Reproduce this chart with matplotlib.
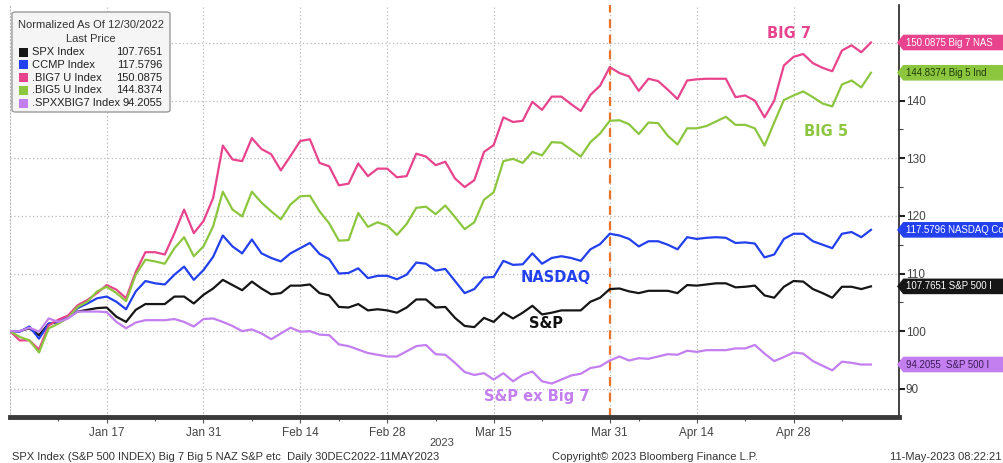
import pandas as pd
import matplotlib.pyplot as plt
from matplotlib.path import Path
from matplotlib.patches import FancyBboxPatch, Rectangle

# -----------------------------------
# Data (normalized to 100 on 30 Dec 2022)
# -----------------------------------

holidays = ["2023-01-02", "2023-01-16", "2023-02-20", "2023-04-07"]

dates = pd.bdate_range(
    "2022-12-30", "2023-05-10",
    freq="C", holidays=holidays
)

spx = [
    100, 100.0, 100.5, 99.3, 101.3, 101.6, 102.5, 103.4, 103.7, 104.0,
    104.1, 102.5, 101.6, 103.7, 104.7, 104.7, 104.7, 106.0, 106.0, 104.8,
    106.3, 107.4, 108.9, 108.0, 107.1, 108.6, 107.4, 106.4, 106.6, 107.9,
    107.9, 108.1, 106.6, 106.2, 104.2, 104.1, 104.7, 103.6, 103.8, 103.6,
    103.2, 104.1, 105.5, 105.5, 104.1, 104.2, 102.3, 100.9, 100.7, 102.3,
    101.6, 103.2, 102.2, 103.2, 104.4, 102.9, 103.2, 103.6, 103.6, 103.6,
    105.1, 105.8, 107.3, 107.4, 106.9, 106.6, 107.0, 107.0, 107.0, 106.6,
    108.0, 107.9, 108.1, 108.3, 108.3, 107.6, 107.7, 107.9, 106.2, 105.8,
    107.7, 108.7, 108.6, 107.3, 106.6, 105.8, 107.7, 107.7, 107.3, 107.77
]

ccmp = [
    100, 99.9, 100.8, 98.7, 101.3, 101.6, 102.5, 104.0, 104.8, 105.7,
    106.0, 105.1, 103.8, 106.9, 108.7, 108.3, 108.1, 109.8, 111.2, 108.9,
    110.6, 112.9, 116.6, 114.7, 113.5, 115.9, 113.5, 112.7, 112.1, 113.5,
    114.4, 115.3, 113.4, 112.5, 110.0, 110.1, 110.9, 109.2, 109.6, 109.6,
    109.0, 109.8, 111.9, 111.7, 110.5, 110.8, 108.7, 106.6, 107.3, 109.3,
    109.4, 112.2, 111.5, 111.6, 113.5, 111.7, 112.7, 113.0, 112.7, 112.2,
    114.2, 115.1, 116.9, 116.6, 116.0, 114.7, 115.6, 115.6, 115.0, 114.2,
    116.3, 116.0, 116.2, 116.3, 116.2, 115.3, 115.4, 115.2, 112.8, 113.3,
    116.0, 116.9, 116.9, 115.6, 115.0, 114.4, 116.9, 117.2, 116.3, 117.58
]

big7 = [
    100, 98.4, 98.4, 96.8, 101.0, 102.0, 102.7, 104.5, 105.4, 106.6,
    108.0, 107.2, 105.7, 110.3, 113.7, 113.7, 113.3, 117.0, 121.1, 117.0,
    119.1, 123.1, 132.2, 129.8, 129.5, 133.5, 131.6, 130.7, 127.9, 130.4,
    133.0, 133.3, 129.2, 128.6, 125.3, 125.6, 129.1, 126.9, 128.2, 128.2,
    126.7, 126.9, 130.8, 130.3, 128.8, 129.4, 126.5, 125.0, 126.2, 131.1,
    132.3, 137.1, 136.3, 136.5, 139.8, 138.4, 140.7, 140.7, 139.4, 138.2,
    141.0, 142.6, 145.8, 144.8, 144.2, 141.7, 143.8, 143.4, 141.9, 140.3,
    143.5, 143.7, 143.8, 143.8, 143.8, 140.6, 140.9, 140.0, 137.1, 140.0,
    146.1, 147.6, 148.1, 146.5, 145.7, 145.1, 148.7, 149.6, 148.4, 150.09
]

big5 = [
    100, 99.0, 98.4, 96.3, 100.5, 101.3, 102.3, 104.2, 105.1, 106.9,
    107.7, 106.6, 105.2, 109.8, 112.4, 112.1, 111.7, 114.4, 116.3, 113.0,
    114.7, 118.2, 124.2, 121.1, 119.9, 124.2, 122.3, 120.8, 119.4, 122.0,
    123.4, 123.5, 120.8, 118.7, 115.7, 115.8, 120.5, 118.1, 118.9, 118.3,
    116.7, 118.6, 121.4, 121.6, 120.3, 121.8, 119.8, 117.7, 118.9, 122.8,
    124.1, 129.5, 129.9, 129.2, 131.1, 130.5, 132.8, 132.7, 131.5, 130.3,
    132.8, 134.3, 136.5, 136.6, 135.9, 134.2, 136.2, 136.1, 133.9, 132.4,
    135.2, 135.2, 135.6, 136.4, 137.2, 135.8, 135.8, 135.2, 132.2, 136.2,
    140.1, 140.9, 141.6, 140.6, 139.5, 139.0, 142.8, 143.5, 142.3, 144.84
]

spx_ex7 = [
    100, 100.0, 100.6, 99.9, 102.2, 101.6, 102.2, 103.4, 103.4, 103.4,
    103.3, 101.6, 100.5, 101.5, 101.9, 101.9, 101.9, 102.1, 101.6, 100.8,
    102.1, 102.2, 101.6, 100.9, 100.0, 100.3, 99.6, 98.6, 99.6, 100.6,
    99.9, 100.0, 99.4, 99.3, 97.7, 97.4, 96.8, 96.2, 95.9, 95.6,
    95.6, 96.5, 97.4, 97.6, 96.0, 95.9, 94.5, 92.9, 92.4, 92.7,
    91.6, 92.7, 91.3, 92.4, 93.0, 91.3, 90.9, 91.6, 92.3, 92.6,
    93.6, 93.9, 94.9, 95.6, 94.9, 95.3, 95.2, 95.6, 96.0, 95.9,
    96.6, 96.4, 96.7, 96.7, 96.7, 97.0, 97.0, 97.6, 96.1, 94.8,
    95.5, 96.3, 96.1, 94.8, 94.0, 93.2, 94.7, 94.5, 94.2, 94.21
]

legend_names = ["SPX Index", "CCMP Index", ".BIG7 U Index", ".BIG5 U Index", ".SPXXBIG7 Index"]
last_price = ["107.7651", "117.5796", "150.0875", "144.8374", "94.2055"]
tag_labels = [
    "107.7651 S&P 500 I",
    "117.5796 NASDAQ Co",
    "150.0875 Big 7 NAS",
    "144.8374 Big 5 Ind",
    "94.2055  S&P 500 I",
]

tick_dates = ["2023-01-17", "2023-01-31", "2023-02-14", "2023-02-28",
              "2023-03-15", "2023-03-31", "2023-04-14", "2023-04-28"]
tick_labels = ["Jan 17", "Jan 31", "Feb 14", "Feb 28",
               "Mar 15", "Mar 31", "Apr 14", "Apr 28"]
minor_dates = ["2023-01-09", "2023-01-24", "2023-02-07", "2023-02-21",
               "2023-03-07", "2023-03-22", "2023-04-05", "2023-04-21", "2023-05-05"]

y_ticks = [90, 100, 110, 120, 130, 140, 150]
y_tick_labels = ["90", "100", "110", "120", "130", "140", ""]

series = [spx, ccmp, big7, big5, spx_ex7]
colors = ["#161616", "#2340ee", "#e8448e", "#8cc63f", "#c37ff0"]
tag_text_colors = ["white", "white", "white", "#1e3a0a", "#3a1a55"]

small_font = "Liberation Sans"

# -----------------------------------
# Figure
# -----------------------------------

fig = plt.figure(figsize=(10.04, 4.63), dpi=100)
ax = fig.add_axes([10 / 1004, 46 / 463, 889 / 1004, 412 / 463])

x = list(range(len(dates)))
pos = {d: i for i, d in enumerate(dates)}

for s, c in zip(series, colors):
    ax.plot(x, s, color=c, linewidth=1.6, zorder=3, solid_joinstyle="round")

# Mar 31 marker
ax.axvline(pos[pd.Timestamp("2023-03-31")], color="#ea7228",
           linestyle=(0, (4, 3)), linewidth=1.6, zorder=2)

ax.set_xlim(0, 91.9)
ax.set_ylim(85.1, 156.6)

ax.set_xticks([pos[pd.Timestamp(d)] for d in tick_dates])
ax.set_xticklabels(tick_labels, fontfamily=small_font)
ax.set_xticks([pos[pd.Timestamp(d)] for d in minor_dates], minor=True)

ax.set_yticks(y_ticks)
ax.set_yticklabels(y_tick_labels, fontfamily=small_font)
ax.set_yticks([95, 105, 115, 125, 135, 145], minor=True)

ax.yaxis.tick_right()
ax.tick_params(axis="y", which="major", length=4, width=1.5,
               labelsize=8.5, labelcolor="#444444", color="#222222", pad=1)
ax.tick_params(axis="y", which="minor", length=3, width=0.8, color="#444444")
ax.tick_params(axis="x", which="major", length=4, width=0.8,
               labelsize=8.5, labelcolor="#444444", color="#555555", pad=3)
ax.tick_params(axis="x", which="minor", length=3, width=0.8, color="#555555")

ax.grid(True, which="major", linestyle=(0, (1, 2)), color="#b8b8b8", linewidth=0.9)

ax.spines["top"].set_visible(False)
ax.spines["left"].set_linestyle((0, (1, 2)))
ax.spines["left"].set_color("#b8b8b8")
ax.spines["right"].set_color("#222222")
ax.spines["right"].set_linewidth(1.2)
ax.spines["bottom"].set_color("#3a3a3a")
ax.spines["bottom"].set_linewidth(3.5)

# -----------------------------------
# Series name labels
# -----------------------------------

ax.text(80.5, 151.6, "BIG 7", color=colors[2], fontsize=10.5,
        fontweight="bold", ha="center", va="center")
ax.text(84.4, 134.6, "BIG 5", color=colors[3], fontsize=10.5,
        fontweight="bold", ha="center", va="center")
ax.text(56.4, 109.3, "NASDAQ", color=colors[1], fontsize=10.5,
        fontweight="bold", ha="center", va="center")
ax.text(55.4, 101.3, "S&P", color="#111111", fontsize=10.5,
        fontweight="bold", ha="center", va="center")
ax.text(54.5, 88.7, "S&P ex Big 7", color=colors[4], fontsize=10.5,
        fontweight="bold", ha="center", va="center")


# -----------------------------------
# Right-hand value tags
# -----------------------------------

def tag_box(x0, y0, width, height, mutation_size):
    pad = 0.22 * mutation_size
    x0, y0 = x0 - pad, y0 - pad
    x1, y1 = x0 + width + 2 * pad, y0 + height + 2 * pad
    ym = (y0 + y1) / 2
    tip = (y1 - y0) * 0.4
    return Path([(x0 - tip, ym), (x0, y1), (x1 + 60, y1),
                 (x1 + 60, y0), (x0, y0), (x0 - tip, ym)], closed=True)


for s, c, tc, lab in zip(series, colors, tag_text_colors, tag_labels):
    ax.annotate(lab, xy=(1, s[-1]), xycoords=("axes fraction", "data"),
                xytext=(4.8, 0), textcoords="offset points",
                ha="left", va="center", fontsize=6.9, color=tc,
                fontfamily=small_font,
                bbox=dict(boxstyle=tag_box, fc=c, ec=c),
                annotation_clip=False, zorder=6)

# -----------------------------------
# Legend box
# -----------------------------------

W, H = 1004, 463


def fx(px):
    return px / W


def fy(py):
    return 1 - py / H


fig.patches.append(FancyBboxPatch(
    (fx(12), fy(112)), fx(170) - fx(12), fy(12) - fy(112),
    boxstyle="round,pad=0,rounding_size=0.004",
    transform=fig.transFigure, fc="#f5f5f5", ec="#9a9a9a", lw=1.0, zorder=5))

fig.text(fx(91), fy(25), "Normalized As Of 12/30/2022", fontsize=8,
         fontfamily=small_font, color="#333333", ha="center", va="center", zorder=6)
fig.text(fx(91), fy(39), "Last Price", fontsize=8,
         fontfamily=small_font, color="#333333", ha="center", va="center", zorder=6)

for k, (name, val, c) in enumerate(zip(legend_names, last_price, colors)):
    yy = 52 + k * 12.8
    fig.patches.append(Rectangle((fx(19), fy(yy + 4.5)), fx(9), 9 / H,
                                 transform=fig.transFigure, fc=c, ec="none", zorder=6))
    fig.text(fx(32), fy(yy), name, fontsize=8, fontfamily=small_font,
             color="#222222", ha="left", va="center", zorder=6)
    fig.text(fx(162), fy(yy), val, fontsize=8, fontfamily=small_font,
             color="#222222", ha="right", va="center", zorder=6)

# -----------------------------------
# Footer
# -----------------------------------

fig.text(fx(442), fy(443), "2023", fontsize=8, fontfamily=small_font,
         color="#444444", ha="center", va="center")
fig.text(fx(12), fy(457), "SPX Index (S&P 500 INDEX) Big 7 Big 5 NAZ S&P etc  Daily 30DEC2022-11MAY2023",
         fontsize=8, fontfamily=small_font, color="#333333", ha="left", va="center")
fig.text(fx(655), fy(457), "Copyright\u00a9 2023 Bloomberg Finance L.P.",
         fontsize=8, fontfamily=small_font, color="#333333", ha="center", va="center")
fig.text(fx(1002), fy(457), "11-May-2023 08:22:21",
         fontsize=8, fontfamily=small_font, color="#333333", ha="right", va="center")

fig.savefig("out.png", dpi=100)
plt.close(fig)
